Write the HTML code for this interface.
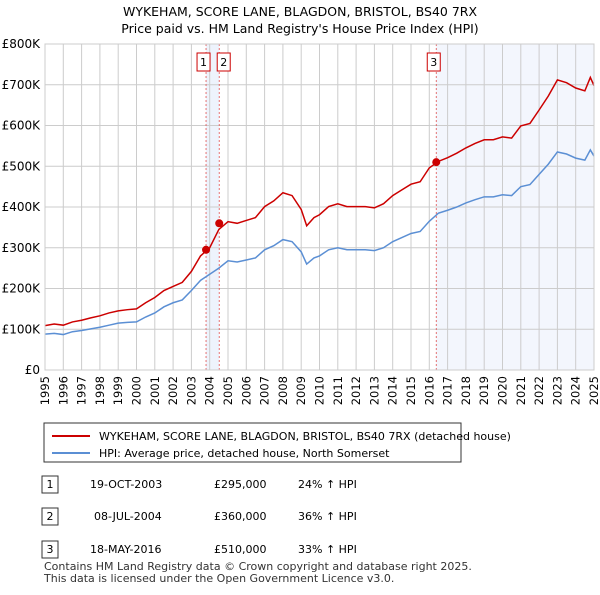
<!DOCTYPE html>
<html><head><meta charset="utf-8"><style>
body{margin:0;background:#fff;font-family:"Liberation Sans","DejaVu Sans",sans-serif;}
svg text{font-family:"DejaVu Sans","Liberation Sans",sans-serif;}
</style></head><body>
<svg width="600" height="590" xmlns="http://www.w3.org/2000/svg">
<text x="300" y="16" text-anchor="middle" font-size="12.5">WYKEHAM, SCORE LANE, BLAGDON, BRISTOL, BS40 7RX</text>
<text x="300" y="33" text-anchor="middle" font-size="12.5">Price paid vs. HM Land Registry's House Price Index (HPI)</text>
<g id="plot"></g>
<g>
<rect x="44" y="423" width="417" height="39" fill="#fff" stroke="#333"/>
<line x1="52" y1="436" x2="90" y2="436" stroke="#cc0000" stroke-width="2"/>
<text x="99" y="440" font-size="11">WYKEHAM, SCORE LANE, BLAGDON, BRISTOL, BS40 7RX (detached house)</text>
<line x1="52" y1="453" x2="90" y2="453" stroke="#5b8fd4" stroke-width="2"/>
<text x="99" y="457" font-size="11">HPI: Average price, detached house, North Somerset</text>
</g>
<g font-size="11">
<rect x="42" y="476" width="16" height="17" fill="#fff" stroke="#333"/><text x="50" y="488" text-anchor="middle">1</text>
<text x="90" y="488">19-OCT-2003</text><text x="214" y="488">£295,000</text><text x="298" y="488">24% ↑ HPI</text>
<rect x="42" y="508" width="16" height="17" fill="#fff" stroke="#333"/><text x="50" y="520" text-anchor="middle">2</text>
<text x="94" y="520">08-JUL-2004</text><text x="214" y="520">£360,000</text><text x="298" y="520">36% ↑ HPI</text>
<rect x="42" y="541" width="16" height="17" fill="#fff" stroke="#333"/><text x="50" y="553" text-anchor="middle">3</text>
<text x="90" y="553">18-MAY-2016</text><text x="214" y="553">£510,000</text><text x="298" y="553">33% ↑ HPI</text>
</g>
<text x="44" y="570" font-size="11" fill="#333">Contains HM Land Registry data © Crown copyright and database right 2025.</text>
<text x="44" y="582" font-size="11" fill="#333">This data is licensed under the Open Government Licence v3.0.</text>
</svg>
<script>
const years=[1995,1995.5,1996,1996.5,1997,1997.5,1998,1998.5,1999,1999.5,2000,2000.5,2001,2001.5,2002,2002.5,2003,2003.5,2004,2004.5,2005,2005.5,2006,2006.5,2007,2007.5,2008,2008.5,2009,2009.3,2009.7,2010,2010.5,2011,2011.5,2012,2012.5,2013,2013.5,2014,2014.5,2015,2015.5,2016,2016.5,2017,2017.5,2018,2018.5,2019,2019.5,2020,2020.5,2021,2021.5,2022,2022.5,2023,2023.5,2024,2024.5,2024.8,2025];
const hpi=[88,90,87,94,97,101,105,110,115,117,118,130,140,155,165,172,195,220,235,250,268,265,270,275,295,305,320,315,290,260,275,280,295,300,295,295,295,293,300,315,325,335,340,365,385,392,400,410,418,425,425,430,428,450,455,480,505,535,530,520,515,540,525];
const price=[109,113,110,118,122,128,133,140,145,148,150,165,178,195,205,215,242,280,300,345,364,360,367,374,401,415,435,428,394,354,374,381,401,408,401,401,401,398,408,428,442,456,462,496,512,521,532,545,556,565,565,572,569,599,605,638,672,712,705,692,685,718,698];
const saleYears=[2003.8,2004.52,2016.38];
const saleValues=[295,360,510];
const yTicks=[0,100,200,300,400,500,600,700,800];
const yLabels=["£0","£100K","£200K","£300K","£400K","£500K","£600K","£700K","£800K"];
const xTicks=[];for(let y=1995;y<=2025;y++)xTicks.push(y);
const X0=45,X1=594,Y0=370,Y1=44;
const sx=v=>X0+(v-1995)/30*(X1-X0);
const sy=v=>Y0-v/800*(Y0-Y1);
const NS="http://www.w3.org/2000/svg",g=document.getElementById('plot');
function mk(t,a){const e=document.createElementNS(NS,t);for(const k in a)e.setAttribute(k,a[k]);g.appendChild(e);return e;}
let e;
e=mk('rect',{x:sx(saleYears[0]),y:Y1,width:sx(saleYears[1])-sx(saleYears[0]),height:Y0-Y1,fill:'#eef3fc'});


e=mk('rect',{x:sx(saleYears[2]),y:Y1,width:X1-sx(saleYears[2]),height:Y0-Y1,fill:'#f3f6fd'});


xTicks.forEach(t=>{e=mk('line',{x1:sx(t),x2:sx(t),y1:Y1,y2:Y0,stroke:'#ccc'});


e=mk('text',{x:0,y:0,'font-size':11.5,'text-anchor':'end',transform:`translate(${sx(t)+4},${Y0+6}) rotate(-90)`});e.textContent=t;

});
yTicks.forEach((t,i)=>{e=mk('line',{x1:X0,x2:X1,y1:sy(t),y2:sy(t),stroke:'#ccc'});


e=mk('text',{x:40,y:sy(t)+4,'font-size':12,'text-anchor':'end'});e.textContent=yLabels[i];

});
saleYears.forEach((s,i)=>{e=mk('line',{x1:sx(s),x2:sx(s),y1:Y1,y2:Y0,stroke:'#e05050','stroke-dasharray':'2,2','stroke-width':0.8});


const bx=i==1?sx(s)-2:(i==0?sx(s)-9:sx(s)-9);
e=mk('rect',{x:bx,y:53,width:13,height:18,fill:'#fff',stroke:'#cc0000'});


e=mk('text',{x:bx+6.5,y:66,'font-size':11,'text-anchor':'middle'});e.textContent=i+1;

});
const pts=a=>a.map((v,i)=>sx(years[i])+','+sy(v)).join(' ');
e=mk('polyline',{points:pts(hpi),fill:'none',stroke:'#5b8fd4','stroke-width':1.5});


e=mk('polyline',{points:pts(price),fill:'none',stroke:'#cc0000','stroke-width':1.5});


saleYears.forEach((s,i)=>{e=mk('circle',{cx:sx(s),cy:sy(saleValues[i]),r:4,fill:'#cc0000'});

});
e=mk('rect',{x:X0,y:Y1,width:X1-X0,height:Y0-Y1,fill:'none',stroke:'#ccc'});


</script>
</body></html>
